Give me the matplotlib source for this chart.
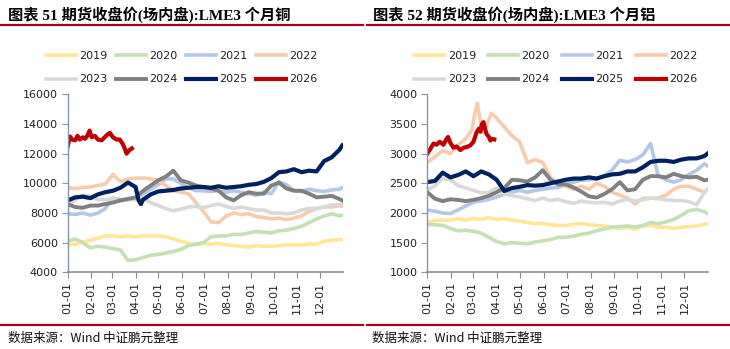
import matplotlib
matplotlib.use("Agg")
import matplotlib.pyplot as plt
from matplotlib.lines import Line2D

plt.rcParams['font.family'] = ['DejaVu Sans', 'Noto Sans CJK SC']

# ---- day-of-year sampling grid (every 10 days) ----
DAYS = [0, 10, 20, 30, 40, 50, 60, 70, 80, 90, 100, 110, 120, 130, 140, 150, 160, 170, 180,
        190, 200, 210, 220, 230, 240, 250, 260, 270, 280, 290, 300, 310, 320, 330, 340, 350, 360, 364]

YEARS = ["2019", "2020", "2021", "2022", "2023", "2024", "2025", "2026"]
COLORS = ["#FFE699", "#C5E0B4", "#B4C7E7", "#F8CBAD", "#D9D9D9", "#808080", "#002060", "#C00000"]
WIDTHS = [2.6, 2.6, 2.6, 2.6, 2.6, 2.8, 3.0, 3.0]

MONTH_TICKS = [0, 31, 59, 90, 120, 151, 181, 212, 243, 273, 304, 334]
MONTH_LABELS = ["01-01", "02-01", "03-01", "04-01", "05-01", "06-01",
                "07-01", "08-01", "09-01", "10-01", "11-01", "12-01"]

# ---- LME 3-month copper ----
CU_2019 = [5850, 5900, 6050, 6150, 6300, 6450, 6450, 6400, 6450, 6400, 6450, 6450, 6450, 6400, 6250, 6100, 5950, 5850, 5950,
           5900, 5950, 5850, 5800, 5750, 5700, 5800, 5750, 5750, 5800, 5850, 5850, 5850, 5900, 5900, 6100, 6150, 6200, 6200]
CU_2020 = [6100, 6250, 6000, 5650, 5750, 5700, 5600, 5500, 4800, 4850, 5000, 5150, 5200, 5300, 5400, 5550, 5800, 5900, 6000,
           6400, 6450, 6450, 6550, 6550, 6650, 6750, 6700, 6650, 6800, 6850, 6950, 7100, 7350, 7600, 7800, 7950, 7800, 7850]
CU_2021 = [7950, 7900, 8000, 7850, 8000, 8300, 9000, 8900, 8900, 9000, 9300, 9600, 9900, 10300, 10300, 10000, 9700, 9500, 9500,
           9450, 9500, 9400, 9500, 9400, 9300, 9200, 9400, 9300, 10100, 9900, 9500, 9450, 9600, 9500, 9450, 9550, 9600, 9700]
CU_2022 = [9700, 9650, 9700, 9750, 9850, 9950, 10600, 10100, 10300, 10350, 10350, 10300, 10200, 9850, 9500, 9400, 9300, 8700, 8100,
           7400, 7350, 7800, 8000, 7900, 7950, 7750, 7700, 7600, 7650, 7550, 7650, 7800, 8100, 8300, 8400, 8400, 8500, 8450]
CU_2023 = [8400, 8900, 9200, 9100, 8900, 8900, 8950, 8800, 8900, 8900, 9000, 8700, 8500, 8300, 8150, 8250, 8400, 8450, 8350,
           8500, 8600, 8450, 8300, 8400, 8300, 8200, 8200, 8000, 8000, 7950, 8000, 8200, 8300, 8300, 8400, 8550, 8550, 8600]
CU_2024 = [8600, 8400, 8350, 8500, 8500, 8600, 8700, 8850, 8950, 9050, 9500, 9850, 10200, 10450, 10850, 10200, 10050, 9850, 9750,
           9650, 9500, 9050, 8850, 9200, 9400, 9300, 9300, 9850, 10050, 9650, 9500, 9500, 9300, 9050, 9100, 9150, 8950, 8850]
CU_2025_DAYS = [0, 10, 20, 30, 40, 50, 60, 70, 80, 90, 94, 97, 100, 110, 120, 130, 140, 150, 160, 170, 180,
                190, 200, 210, 220, 230, 240, 250, 260, 270, 280, 290, 300, 310, 320, 330, 340, 350, 360, 364]
CU_2025 = [8850, 9050, 9100, 9000, 9250, 9400, 9500, 9700, 10050, 9750, 8850, 8600, 8900, 9250, 9450, 9500, 9550, 9650, 9700,
           9750, 9750, 9700, 9800, 9700, 9750, 9800, 9900, 9950, 10100, 10350, 10750, 10800, 10950, 10750, 10850, 10800,
           11500, 11750, 12250, 12550]
CU_2026_DAYS = [0, 3, 6, 10, 13, 16, 20, 23, 26, 29, 32, 36, 40, 45, 49, 53, 56, 60, 65, 69, 73, 76, 78, 82, 85]
CU_2026 = [12500, 13150, 12950, 12900, 13200, 12950, 13100, 13000, 13200, 13550, 13100, 13200, 12950,
           12900, 13100, 13300, 13400, 13100, 12950, 12950, 12650, 12300, 12000, 12250, 12350]

# ---- LME 3-month aluminium ----
AL_2019 = [1850, 1870, 1880, 1880, 1900, 1880, 1910, 1890, 1920, 1890, 1900, 1880, 1860, 1840, 1820, 1820, 1800, 1790, 1790,
           1810, 1820, 1800, 1790, 1780, 1760, 1740, 1760, 1720, 1780, 1790, 1760, 1760, 1740, 1760, 1770, 1780, 1810, 1820]
AL_2020 = [1810, 1800, 1790, 1740, 1700, 1710, 1690, 1660, 1590, 1520, 1480, 1500, 1490, 1480, 1510, 1530, 1550, 1590, 1590,
           1610, 1640, 1660, 1700, 1730, 1760, 1770, 1780, 1760, 1790, 1840, 1820, 1850, 1890, 1960, 2040, 2060, 2020, 1990]
AL_2021 = [2050, 2030, 2000, 1990, 2050, 2120, 2180, 2200, 2230, 2270, 2320, 2350, 2380, 2350, 2380, 2400, 2420, 2430, 2480,
           2520, 2550, 2560, 2580, 2630, 2720, 2890, 2860, 2900, 2980, 3170, 2620, 2560, 2520, 2560, 2650, 2720, 2830, 2790]
AL_2022_DAYS = [0, 10, 20, 30, 40, 50, 58, 62, 65, 68, 72, 78, 83, 90, 100, 110, 120, 130, 140, 150, 160, 170, 180,
                190, 200, 210, 220, 230, 240, 250, 260, 270, 280, 290, 300, 310, 320, 330, 340, 350, 360, 364]
AL_2022 = [2850, 2950, 3050, 3000, 3150, 3250, 3400, 3700, 3850, 3600, 3350, 3500, 3680, 3600, 3450, 3300, 3200, 2850, 2900,
           2850, 2600, 2500, 2450, 2400, 2450, 2400, 2500, 2450, 2350, 2300, 2250, 2150, 2250, 2250, 2250, 2300, 2400, 2450,
           2450, 2400, 2350, 2400]
AL_2023 = [2380, 2460, 2580, 2560, 2460, 2420, 2380, 2340, 2350, 2420, 2330, 2290, 2270, 2240, 2210, 2250, 2210, 2230, 2190,
           2160, 2200, 2180, 2170, 2180, 2150, 2200, 2230, 2200, 2220, 2250, 2240, 2220, 2210, 2210, 2190, 2140, 2350, 2390]
AL_2024 = [2350, 2240, 2200, 2230, 2220, 2200, 2220, 2250, 2290, 2350, 2420, 2560, 2550, 2530, 2600, 2720, 2560, 2480, 2480,
           2430, 2360, 2280, 2260, 2320, 2400, 2520, 2380, 2400, 2560, 2620, 2620, 2600, 2660, 2620, 2600, 2610, 2550, 2560]
AL_2025 = [2520, 2540, 2680, 2600, 2640, 2700, 2620, 2700, 2650, 2560, 2370, 2420, 2440, 2470, 2460, 2470, 2500, 2530, 2560,
           2580, 2580, 2600, 2580, 2620, 2650, 2660, 2700, 2700, 2770, 2860, 2880, 2880, 2860, 2900, 2920, 2920, 2960, 3000]
AL_2026_DAYS = [0, 4, 8, 12, 16, 21, 25, 27, 30, 34, 38, 43, 47, 51, 56, 60, 64, 67, 69, 71, 73, 75, 77, 80, 82, 84, 87]
AL_2026 = [3000, 3080, 3170, 3150, 3200, 3150, 3250, 3280, 3180, 3100, 3120, 3060, 3100, 3110, 3140, 3200,
           3360, 3420, 3370, 3500, 3530, 3420, 3330, 3280, 3220, 3250, 3240]

COPPER = [(DAYS, CU_2019), (DAYS, CU_2020), (DAYS, CU_2021), (DAYS, CU_2022), (DAYS, CU_2023),
          (DAYS, CU_2024), (CU_2025_DAYS, CU_2025), (CU_2026_DAYS, CU_2026)]
ALUMINIUM = [(DAYS, AL_2019), (DAYS, AL_2020), (DAYS, AL_2021), (AL_2022_DAYS, AL_2022), (DAYS, AL_2023),
             (DAYS, AL_2024), (DAYS, AL_2025), (AL_2026_DAYS, AL_2026)]

RED = "#A50021"
CJK = ['Noto Sans CJK SC', 'DejaVu Sans']
TITLE_FONT = ['Liberation Serif', 'Noto Sans CJK SC']

fig = plt.figure(figsize=(7.30, 3.49), dpi=100)
W, H = 730.0, 349.0


def fx(px):
    return px / W


def fy(py):
    return 1 - py / H


def panel(left_px, right_px, series, ylim, yticks, legend_x, col_space):
    ax = fig.add_axes([fx(left_px), fy(272.3), fx(right_px - left_px), (272.3 - 94.3) / H])
    lines = []
    for (days, vals), year, col, lw in zip(series, YEARS, COLORS, WIDTHS):
        ln, = ax.plot(days, vals, color=col, lw=lw, label=year, solid_joinstyle='round')
        lines.append(ln)

    ax.set_xlim(0, 365)
    ax.set_ylim(*ylim)
    ax.set_yticks(yticks)
    ax.set_yticklabels([str(v) for v in yticks], fontsize=8, color="#222222")
    ax.set_xticks(MONTH_TICKS)
    ax.set_xticklabels(MONTH_LABELS, rotation=90, fontsize=8, color="#222222")
    ax.tick_params(axis='y', length=4, width=0.8, color="#8497B0", pad=3)
    ax.tick_params(axis='x', length=4, width=0.8, color="#8C8C8C", pad=3)
    for s in ("top", "right"):
        ax.spines[s].set_visible(False)
    ax.spines["left"].set_color("#8497B0")
    ax.spines["left"].set_linewidth(1.0)
    ax.spines["bottom"].set_color("#8C8C8C")
    ax.spines["bottom"].set_linewidth(1.2)
    ax.patch.set_alpha(0)

    # legend: two rows of four entries, filled row by row
    order = [0, 4, 1, 5, 2, 6, 3, 7]
    leg = fig.legend(handles=[lines[i] for i in order], loc="center", ncol=4, frameon=False,
                     bbox_to_anchor=(fx(legend_x), fy(67.5)), fontsize=8,
                     handlelength=2.7, handletextpad=0.3, columnspacing=col_space,
                     labelspacing=1.25)
    for t in leg.get_texts():
        t.set_color("#222222")
    return ax


panel(67.7, 343.0, COPPER, (4000, 16000), list(range(4000, 16001, 2000)), 182, 0.75)
panel(427.3, 708.3, ALUMINIUM, (1000, 4000), list(range(1000, 4001, 500)), 556, 1.1)

# titles and header / footer rules
fig.text(fx(8), fy(15), "图表 51 期货收盘价(场内盘):LME3 个月铜", fontsize=11,
         fontweight='bold', family=TITLE_FONT, va='center', ha='left')
fig.text(fx(373), fy(15), "图表 52 期货收盘价(场内盘):LME3 个月铝", fontsize=11,
         fontweight='bold', family=TITLE_FONT, va='center', ha='left')
for x0, x1 in ((0, 363), (367, 729)):
    fig.add_artist(Line2D([fx(x0), fx(x1)], [fy(25), fy(25)], color=RED, lw=1.6))
    fig.add_artist(Line2D([fx(x0), fx(x1)], [fy(325), fy(325)], color=RED, lw=1.6))

fig.text(fx(8), fy(338), "数据来源：Wind 中证鹏元整理", fontsize=9, family=CJK,
         va='center', ha='left', color="#111111")
fig.text(fx(372), fy(338), "数据来源：Wind 中证鹏元整理", fontsize=9, family=CJK,
         va='center', ha='left', color="#111111")

fig.savefig("out.png", dpi=100)
